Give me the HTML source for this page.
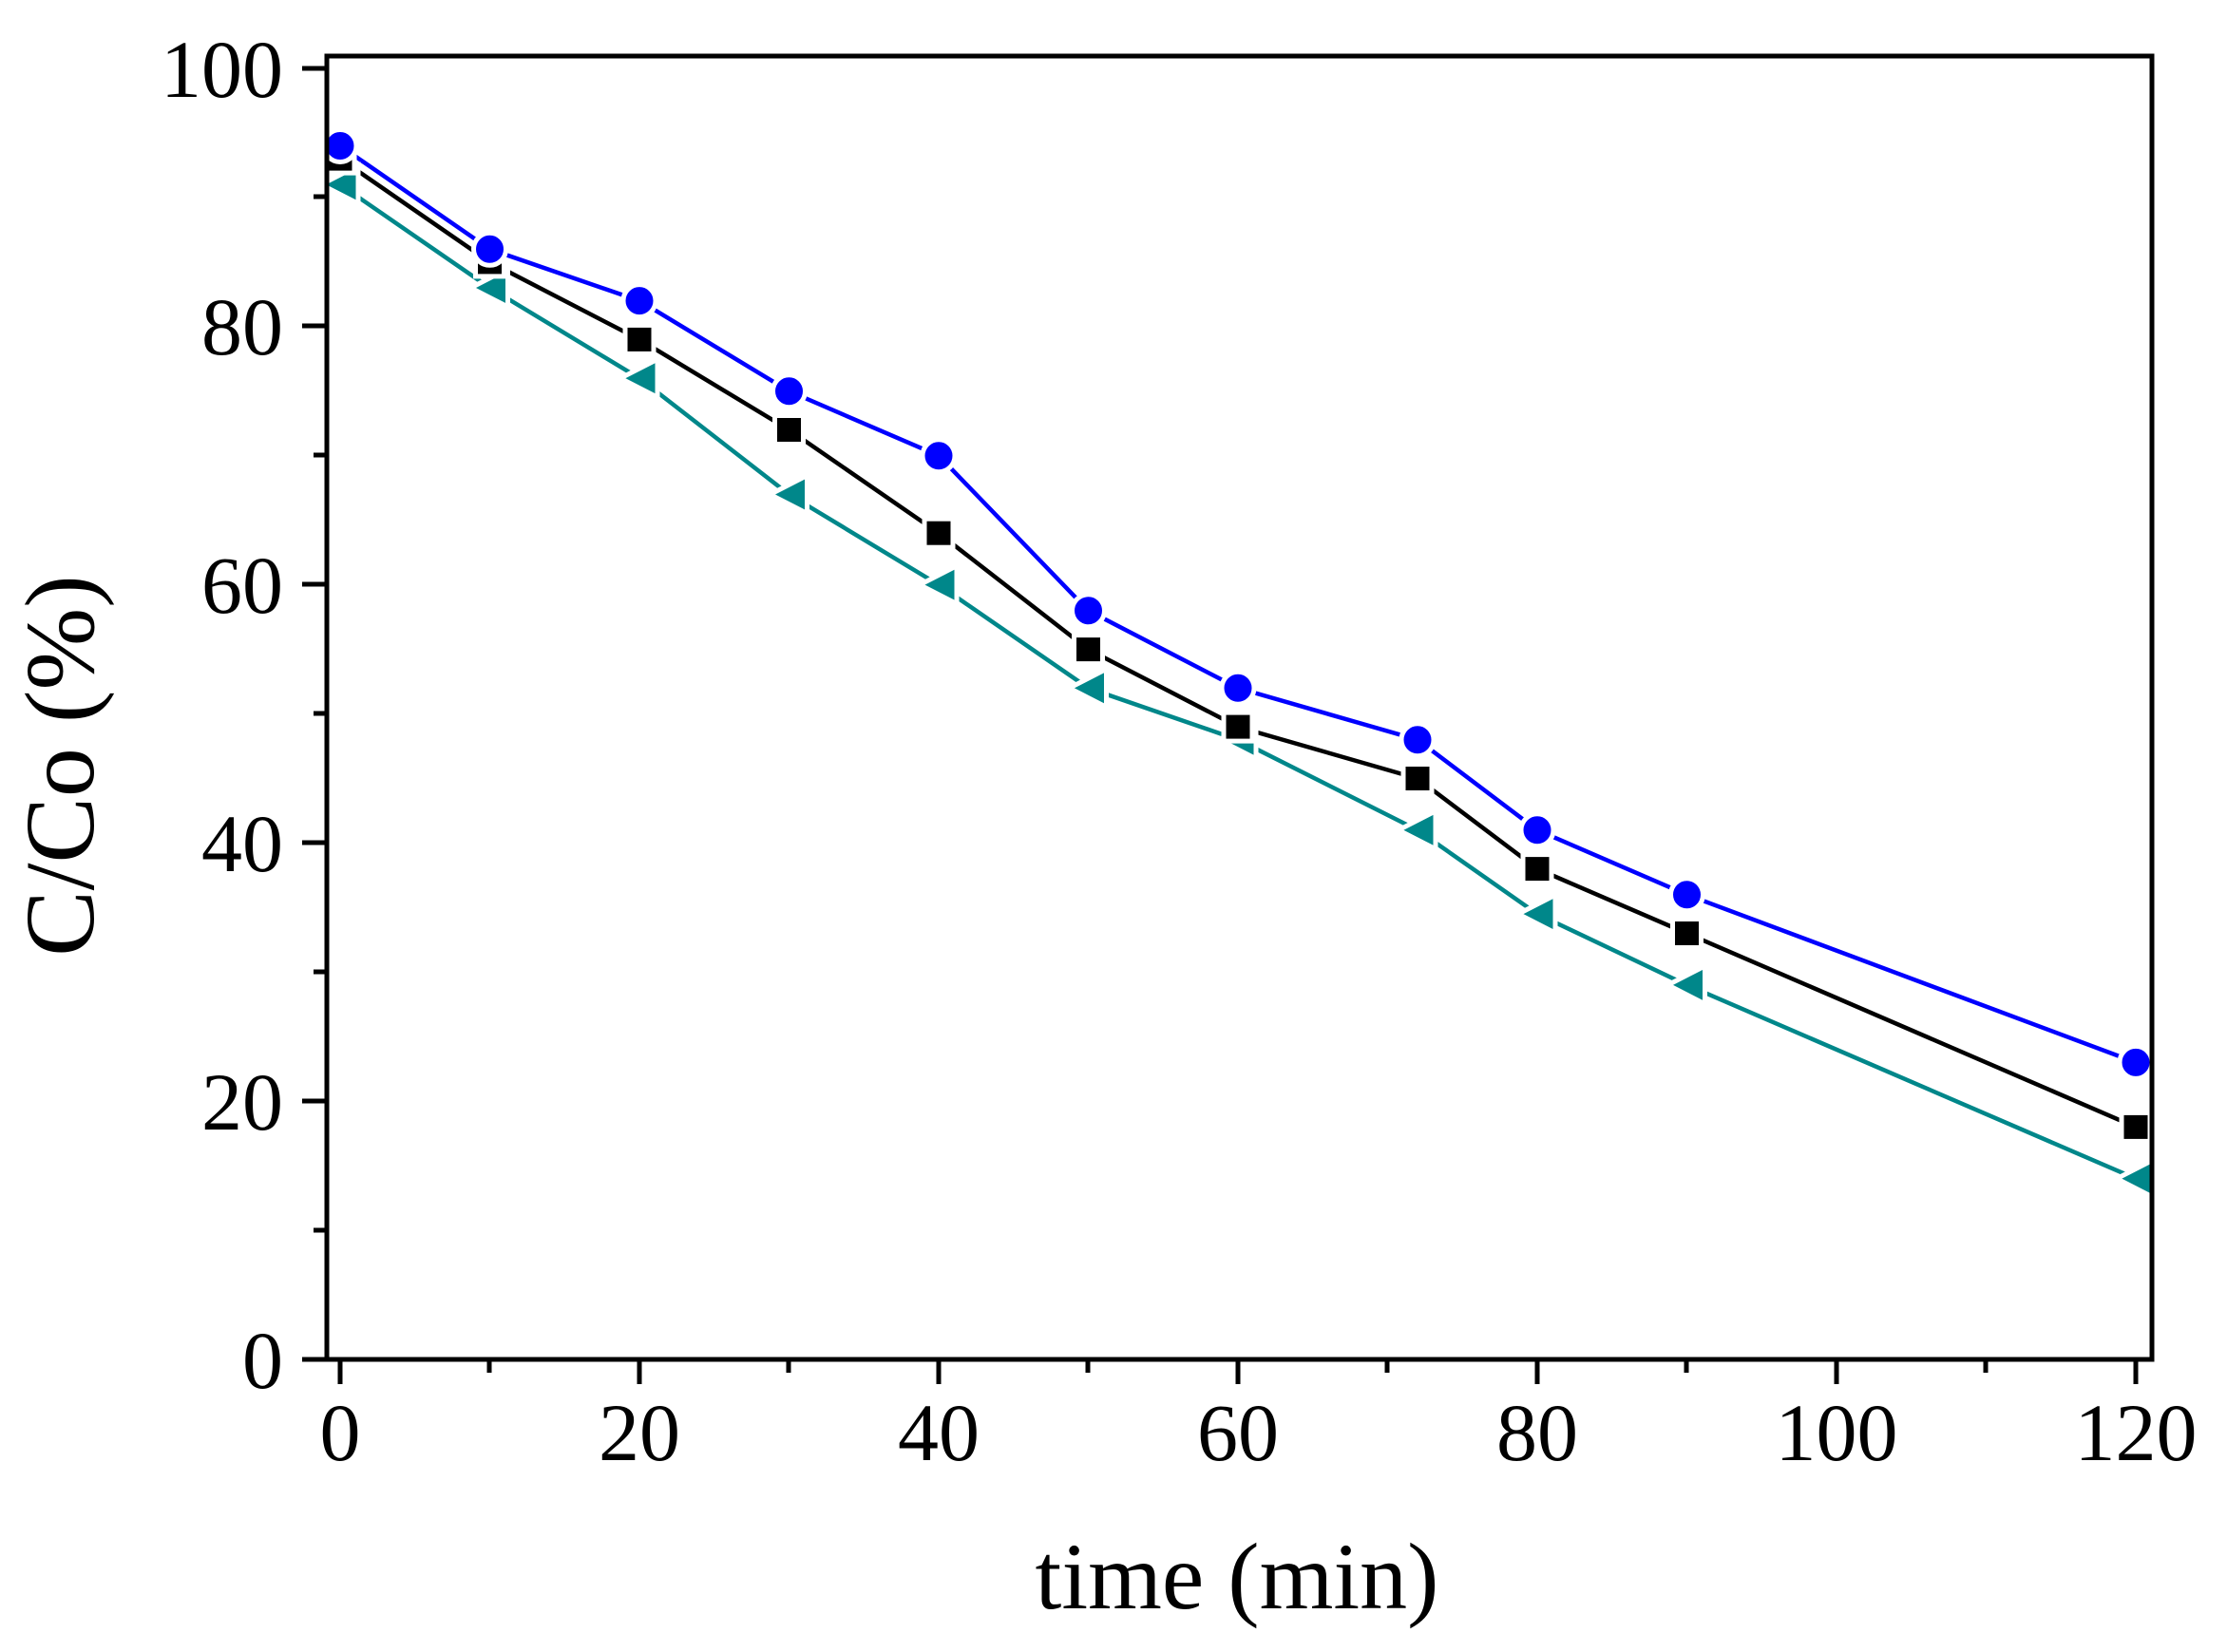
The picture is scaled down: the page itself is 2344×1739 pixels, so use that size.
<!DOCTYPE html>
<html><head><meta charset="utf-8"><style>
html,body{margin:0;padding:0;background:#fff;}
svg{display:block;}
text{font-family:"Liberation Serif",serif;fill:#000;}
</style></head><body>
<svg width="2344" height="1739" viewBox="0 0 2344 1739" xmlns="http://www.w3.org/2000/svg">
<rect width="2344" height="1739" fill="#fff"/>
<rect x="344" y="59" width="1921" height="1372" fill="none" stroke="#000" stroke-width="5"/>
<g stroke="#000" stroke-width="5">
<line x1="318" y1="1431" x2="344" y2="1431"/>
<line x1="318" y1="1159" x2="344" y2="1159"/>
<line x1="318" y1="887" x2="344" y2="887"/>
<line x1="318" y1="615" x2="344" y2="615"/>
<line x1="318" y1="343" x2="344" y2="343"/>
<line x1="318" y1="72" x2="344" y2="72"/>
<line x1="330" y1="1295" x2="344" y2="1295"/>
<line x1="330" y1="1023" x2="344" y2="1023"/>
<line x1="330" y1="751" x2="344" y2="751"/>
<line x1="330" y1="479" x2="344" y2="479"/>
<line x1="330" y1="207" x2="344" y2="207"/>
<line x1="358" y1="1431" x2="358" y2="1457"/>
<line x1="673" y1="1431" x2="673" y2="1457"/>
<line x1="988" y1="1431" x2="988" y2="1457"/>
<line x1="1303" y1="1431" x2="1303" y2="1457"/>
<line x1="1618" y1="1431" x2="1618" y2="1457"/>
<line x1="1933" y1="1431" x2="1933" y2="1457"/>
<line x1="2248" y1="1431" x2="2248" y2="1457"/>
<line x1="515" y1="1431" x2="515" y2="1445"/>
<line x1="830" y1="1431" x2="830" y2="1445"/>
<line x1="1145" y1="1431" x2="1145" y2="1445"/>
<line x1="1460" y1="1431" x2="1460" y2="1445"/>
<line x1="1775" y1="1431" x2="1775" y2="1445"/>
<line x1="2090" y1="1431" x2="2090" y2="1445"/>
</g>
<g font-size="86" text-anchor="end">
<text x="298" y="1461">0</text>
<text x="298" y="1189">20</text>
<text x="298" y="917">40</text>
<text x="298" y="645">60</text>
<text x="298" y="373">80</text>
<text x="298" y="102">100</text>
</g>
<g font-size="86" text-anchor="middle">
<text x="358" y="1537">0</text>
<text x="673" y="1537">20</text>
<text x="988" y="1537">40</text>
<text x="1303" y="1537">60</text>
<text x="1618" y="1537">80</text>
<text x="1933" y="1537">100</text>
<text x="2248" y="1537">120</text>
</g>
<text x="1302" y="1693" font-size="100" text-anchor="middle">time (min)</text>
<text transform="translate(98,806) rotate(-90)" font-size="104" text-anchor="middle">C/Co (%)</text>

<polyline fill="none" stroke="#0000ff" stroke-width="4.5" points="358,153.5 515.5,262.3 673,316.6 830.5,411.8 988,479.7 1145.5,642.8 1303,724.3 1492,778.7 1618,873.8 1775.5,941.8 2248,1118.4"/>
<polyline fill="none" stroke="#000" stroke-width="4.5" points="358,167.1 515.5,275.9 673,357.4 830.5,452.5 988,561.2 1145.5,683.6 1303,765.1 1492,819.5 1618,914.6 1775.5,982.5 2248,1186.4"/>
<polyline fill="none" stroke="#00878a" stroke-width="4.5" points="358,194.3 515.5,303.0 673,398.2 830.5,520.5 988,615.6 1145.5,724.3 1303,778.7 1492,873.8 1618,962.1 1775.5,1036.9 2248,1240.7"/>

<g fill="#00878a" stroke="#fff" stroke-width="5">
<polygon points="338,194.3 377,174.3 377,214.3"/>
<polygon points="495.5,303.0 534.5,283.0 534.5,323.0"/>
<polygon points="653,398.2 692,378.2 692,418.2"/>
<polygon points="810.5,520.5 849.5,500.5 849.5,540.5"/>
<polygon points="968,615.6 1007,595.6 1007,635.6"/>
<polygon points="1125.5,724.3 1164.5,704.3 1164.5,744.3"/>
<polygon points="1283,778.7 1322,758.7 1322,798.7"/>
<polygon points="1472,873.8 1511,853.8 1511,893.8"/>
<polygon points="1598,962.1 1637,942.1 1637,982.1"/>
<polygon points="1755.5,1036.9 1794.5,1016.9 1794.5,1056.9"/>
<polygon points="2228,1240.7 2267,1220.7 2267,1260.7"/>
</g>
<g fill="#000" stroke="#fff" stroke-width="5">
<rect x="343" y="152.1" width="30" height="30"/>
<rect x="500.5" y="260.9" width="30" height="30"/>
<rect x="658" y="342.4" width="30" height="30"/>
<rect x="815.5" y="437.5" width="30" height="30"/>
<rect x="973" y="546.2" width="30" height="30"/>
<rect x="1130.5" y="668.6" width="30" height="30"/>
<rect x="1288" y="750.1" width="30" height="30"/>
<rect x="1477" y="804.5" width="30" height="30"/>
<rect x="1603" y="899.6" width="30" height="30"/>
<rect x="1760.5" y="967.5" width="30" height="30"/>
<rect x="2233" y="1171.4" width="30" height="30"/>
</g>
<g fill="#0000ff" stroke="#fff" stroke-width="5">
<circle cx="358" cy="153.5" r="17"/>
<circle cx="515.5" cy="262.3" r="17"/>
<circle cx="673" cy="316.6" r="17"/>
<circle cx="830.5" cy="411.8" r="17"/>
<circle cx="988" cy="479.7" r="17"/>
<circle cx="1145.5" cy="642.8" r="17"/>
<circle cx="1303" cy="724.3" r="17"/>
<circle cx="1492" cy="778.7" r="17"/>
<circle cx="1618" cy="873.8" r="17"/>
<circle cx="1775.5" cy="941.8" r="17"/>
<circle cx="2248" cy="1118.4" r="17"/>
</g>
<line x1="344" y1="59" x2="344" y2="1431" stroke="#000" stroke-width="5"/>
<line x1="2265" y1="59" x2="2265" y2="1431" stroke="#000" stroke-width="5"/>
</svg>
</body></html>
